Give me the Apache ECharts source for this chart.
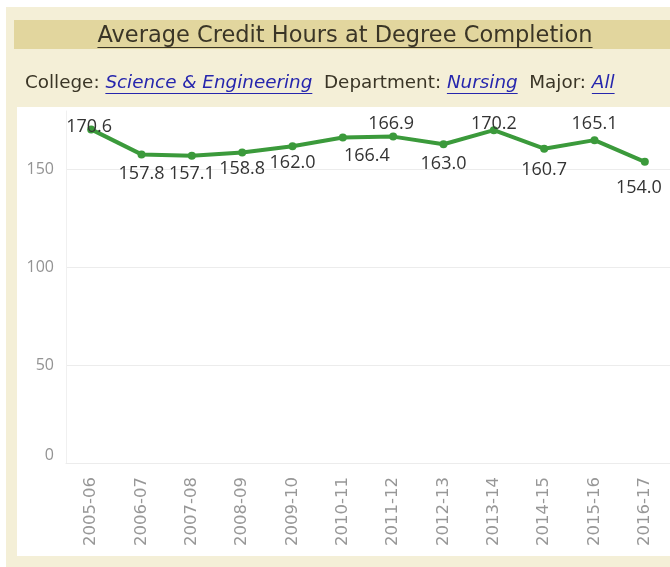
<!DOCTYPE html>
<html>
<head>
<meta charset="utf-8">
<script src="https://cdn.jsdelivr.net/npm/echarts@6/dist/echarts.min.js"></script>
<style>
  html, body { margin: 0; padding: 0; background: #ffffff; }
  #chart { width: 670px; height: 567px; }
</style>
</head>
<body>
<div id="chart"></div>
<script>
// Academic years on the category axis
const years = ['2005-06', '2006-07', '2007-08', '2008-09', '2009-10', '2010-11',
               '2011-12', '2012-13', '2013-14', '2014-15', '2015-16', '2016-17'];
// Average credit hours earned at degree completion
const avgCreditHours = [170.6, 157.8, 157.1, 158.8, 162.0, 166.4, 166.9, 163.0, 170.2, 160.7, 165.1, 154.0];
// Value-axis labels
const yTicks = [0, 50, 100, 150];

const titleText = 'Average Credit Hours at Degree Completion';
const filterParts = [
  { text: 'College: ', link: false },
  { text: 'Science & Engineering', link: true },
  { text: '  Department: ', link: false },
  { text: 'Nursing', link: true },
  { text: '  Major: ', link: false },
  { text: 'All', link: true }
];

// Label nudges [dx, dy] from each marker, so neighbouring labels don't collide
const labelNudge = [[-2, -3], [0, 19], [0, 18], [0, 16], [0, 17], [24, 18],
                    [-2, -13], [0, 20], [0, -6], [0, 21], [0, -16], [-6, 26]];

const HEAD_FONT = '"DejaVu Sans", sans-serif';
const BODY_FONT = '"Open Sans", "DejaVu Sans", sans-serif';
const AXIS_FONT = '"DejaVu Sans", sans-serif';

const measureCtx = document.createElement('canvas').getContext('2d');
function textWidth(str, font) {
  measureCtx.font = font;
  return measureCtx.measureText(str).width;
}

// Page frame, title band and chart panel
const graphics = [
  { type: 'rect', z: -10, shape: { x: 6, y: 7, width: 664, height: 560 }, style: { fill: '#f4efd7' }, silent: true },
  { type: 'rect', z: -9, shape: { x: 14, y: 20, width: 656, height: 29 }, style: { fill: '#e2d69e' }, silent: true },
  { type: 'rect', z: -9, shape: { x: 17, y: 107, width: 653, height: 449 }, style: { fill: '#ffffff' }, silent: true }
];

// Title, scaled to span its band width
const titleTarget = 495;
let titleSize = 22;
titleSize = titleSize * titleTarget / textWidth(titleText, titleSize + 'px ' + HEAD_FONT);
const titleFont = titleSize.toFixed(2) + 'px ' + HEAD_FONT;
const titleW = textWidth(titleText, titleFont);
const titleX = 345 - titleW / 2;
graphics.push({
  type: 'text', x: titleX, y: 36,
  style: { text: titleText, fill: '#3a3526', font: titleFont, textVerticalAlign: 'middle' }
});
graphics.push({
  type: 'line', shape: { x1: titleX, y1: 47.5, x2: titleX + titleW, y2: 47.5 },
  style: { stroke: '#3a3526', lineWidth: 1 }
});

// Filter summary line
const filterTarget = 590;
let filterSize = 18;
const fullW = filterParts.reduce(function (s, p) {
  return s + textWidth(p.text, (p.link ? 'italic ' : '') + filterSize + 'px ' + HEAD_FONT);
}, 0);
filterSize = filterSize * filterTarget / fullW;
let fx = 25;
const filterY = 83;
filterParts.forEach(function (p) {
  const font = (p.link ? 'italic ' : '') + filterSize.toFixed(2) + 'px ' + HEAD_FONT;
  const w = textWidth(p.text, font);
  const color = p.link ? '#2626ad' : '#3a3526';
  graphics.push({
    type: 'text', x: fx, y: filterY,
    style: { text: p.text, fill: color, font: font, textVerticalAlign: 'middle' }
  });
  if (p.link) {
    graphics.push({
      type: 'line', shape: { x1: fx, y1: filterY + 10.5, x2: fx + w, y2: filterY + 10.5 },
      style: { stroke: color, lineWidth: 1 }
    });
  }
  fx += w;
});

const chart = echarts.init(document.getElementById('chart'), null, { renderer: 'canvas' });
chart.setOption({
  animation: false,
  backgroundColor: '#ffffff',
  graphic: graphics,
  grid: { left: 66, top: 111, width: 605, height: 352, containLabel: false },
  xAxis: {
    type: 'category',
    data: years,
    boundaryGap: true,
    axisLine: { show: true, lineStyle: { color: '#ececec' } },
    axisTick: { show: false },
    axisLabel: {
      rotate: 90,
      margin: 14,
      color: '#979797',
      fontSize: 16.5,
      fontFamily: AXIS_FONT
    }
  },
  yAxis: {
    type: 'value',
    min: 0,
    max: 180,
    interval: 50,
    axisLine: { show: true, lineStyle: { color: '#f0f0f0' } },
    axisTick: { show: false },
    splitLine: { show: true, lineStyle: { color: ['#ececec', '#ececec', '#ececec', '#ececec', 'rgba(0,0,0,0)'] } },
    axisLabel: {
      margin: 12,
      color: '#939393',
      fontSize: 16,
      fontFamily: BODY_FONT,
      showMaxLabel: false,
      formatter: function (v) {
        if (yTicks.indexOf(v) < 0) return '';
        return v === 0 ? '{z|0}' : String(v);
      },
      rich: { z: { padding: [0, 0, 16, 0], color: '#939393', fontSize: 16, fontFamily: BODY_FONT } }
    }
  },
  series: [{
    type: 'line',
    data: avgCreditHours,
    symbol: 'circle',
    symbolSize: 8,
    itemStyle: { color: '#3b9a3b' },
    lineStyle: { color: '#3b9a3b', width: 4 },
    label: {
      show: true,
      position: 'inside',
      color: '#333333',
      fontSize: 18,
      fontFamily: BODY_FONT,
      formatter: function (p) { return p.value.toFixed(1); }
    },
    labelLayout: function (params) {
      const n = labelNudge[params.dataIndex];
      return { dx: n[0], dy: n[1], hideOverlap: false };
    }
  }]
});
</script>
</body>
</html>
